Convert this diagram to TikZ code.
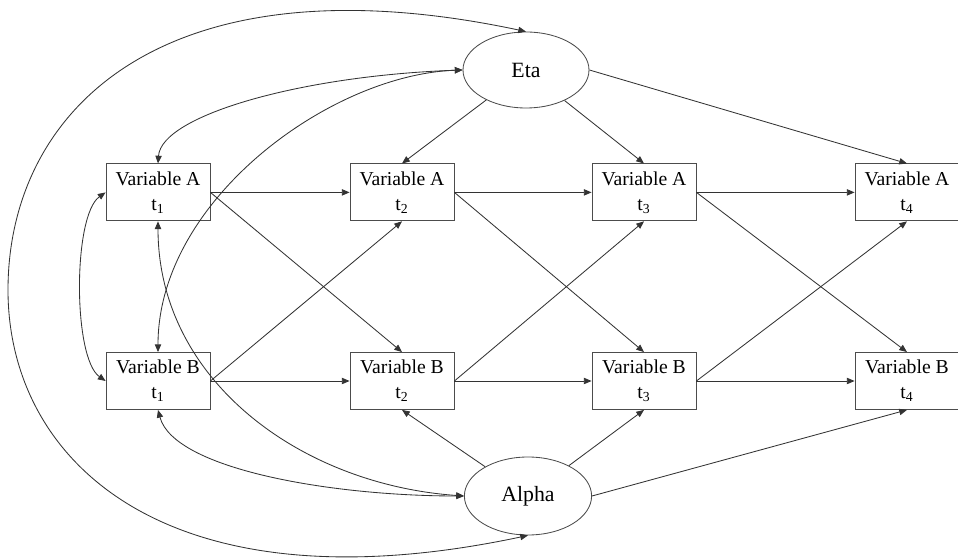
\documentclass[tikz,border=0pt]{standalone}
\usepackage{fontspec}
\setmainfont{Liberation Serif}
\usepackage{tikz}
\usetikzlibrary{positioning, arrows.meta, shapes.geometric}

\begin{document}
\begin{tikzpicture}[
    obs/.style={draw=black!70, line width=0.6pt, minimum width=2.6cm, minimum height=1.425cm, inner sep=0pt, align=center, font=\fontsize{14}{17.7}\selectfont},
    lat/.style={draw=black!70, line width=0.6pt, ellipse, minimum width=3.15cm, minimum height=1.9cm, inner sep=0pt, font=\fontsize{15.5}{18}\selectfont},
    arr/.style={-{Triangle[length=5.5pt, width=4.5pt]}, line width=0.6pt, black!80},
    cov/.style={{Triangle[length=5.5pt, width=4.5pt]}-{Triangle[length=5.5pt, width=4.5pt]}, line width=0.6pt, black!80},
]
\useasboundingbox (0,0) rectangle (23.95,14);

% --- latent factors ---
\node[lat] (Eta) at (13.15, 12.25) {Eta};
\node[lat, minimum width=3.18cm, minimum height=1.95cm] (Alpha) at (13.2, 1.6) {Alpha};

% --- Variable A over time ---
\node[obs] (A1) at (3.95, 9.19) {Variable A\\t\textsubscript{1}};
\node[obs] (A2) at (10.05, 9.19) {Variable A\\t\textsubscript{2}};
\node[obs] (A3) at (16.1, 9.19) {Variable A\\t\textsubscript{3}};
\node[obs] (A4) at (22.675, 9.19) {Variable A\\t\textsubscript{4}};

% --- Variable B over time ---
\node[obs] (B1) at (3.95, 4.475) {Variable B\\t\textsubscript{1}};
\node[obs] (B2) at (10.05, 4.475) {Variable B\\t\textsubscript{2}};
\node[obs] (B3) at (16.1, 4.475) {Variable B\\t\textsubscript{3}};
\node[obs] (B4) at (22.675, 4.475) {Variable B\\t\textsubscript{4}};

\coordinate (outer) at (0.2, 6.75);

% autoregressive paths
\draw[arr] (A1.east) -- (A2.west);
\draw[arr] (A2.east) -- (A3.west);
\draw[arr] (A3.east) -- (A4.west);
\draw[arr] (B1.east) -- (B2.west);
\draw[arr] (B2.east) -- (B3.west);
\draw[arr] (B3.east) -- (B4.west);

% cross-lagged paths
\draw[arr] (A1.east) -- (B2.north);
\draw[arr] (A2.east) -- (B3.north);
\draw[arr] (A3.east) -- (B4.north);
\draw[arr] (B1.east) -- (A2.south);
\draw[arr] (B2.east) -- (A3.south);
\draw[arr] (B3.east) -- (A4.south);

% factor loadings
\draw[arr] (Eta) -- (A2.north);
\draw[arr] (Eta) -- (A3.north);
\draw[arr] (Eta.east) -- (A4.north);
\draw[arr] (Alpha) -- (B2.south);
\draw[arr] (Alpha) -- (B3.south);
\draw[arr] (Alpha.east) -- (B4.south);

% --- covariances ---
\draw[cov] (A1.west) to[out=215, in=145, distance=1cm] (B1.west);
\draw[cov] (A1.north) to[out=86, in=182, out distance=1.2cm, in distance=4.05cm] (Eta.west);
\draw[cov] (B1.north) to[out=90, in=182, out distance=3.8cm, in distance=3.3cm] (Eta.west);
\draw[cov] (A1.south) to[out=-90, in=176, out distance=3.98cm, in distance=4.08cm] (Alpha.west);
\draw[cov] (B1.south) to[out=-75, in=180, out distance=1.53cm, in distance=3.33cm] (Alpha.west);
\draw[cov] (Eta.north) to[out=168, in=90, out distance=9.28cm, in distance=4.5cm] (outer)
    to[out=-90, in=192, out distance=4.25cm, in distance=9.3cm] (Alpha.south);

\end{tikzpicture}
\end{document}
